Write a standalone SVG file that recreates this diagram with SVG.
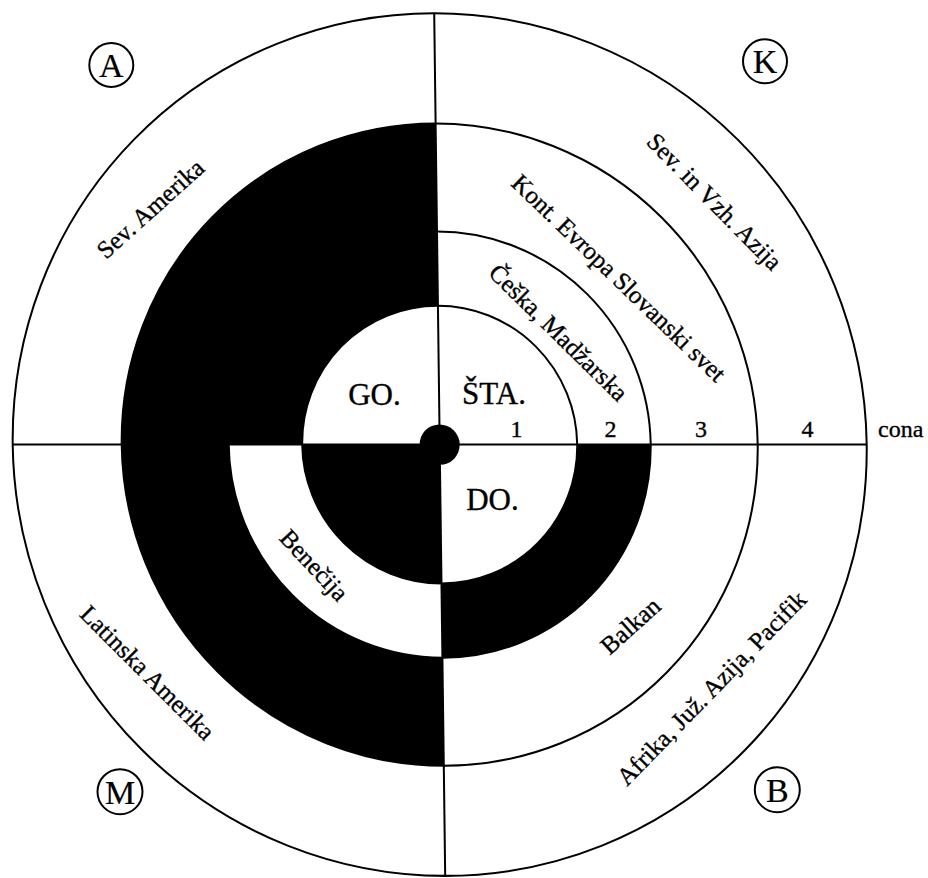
<svg xmlns="http://www.w3.org/2000/svg" width="928" height="878" viewBox="0 0 928 878">
<style>
.t{font-family:"Liberation Serif","Times New Roman",serif;fill:#000;stroke:#000;stroke-width:0.35}
.lab{font-size:25px}
.big{font-size:31px}
.num{font-size:24px}
.ring{fill:none;stroke:#000;stroke-width:2}
.blk{fill:#000;stroke:none}
.ax{stroke:#000;stroke-width:2}
.badge circle{fill:none;stroke:#000;stroke-width:2}
.badge text{font-size:34px;stroke-width:0.2}
</style>
<rect width="928" height="878" fill="#fff"/>
<g id="disc" transform="translate(439.7,444.6) skewX(0.73) scale(1,1.01)">
  <g id="black-sectors">
    <path class="blk" d="M-318,0 A318,318 0 0 1 0,-318 L0,-137.5 A137.5,137.5 0 0 0 -137.5,0 Z"/>
    <path class="blk" d="M0,0 L-137.5,0 A137.5,137.5 0 0 0 0,137.5 Z"/>
    <path class="blk" d="M-318,0 A318,318 0 0 0 0,318 L0,211 A211,211 0 0 1 -211,0 Z"/>
    <path class="blk" d="M211,0 A211,211 0 0 1 0,211 L0,137.5 A137.5,137.5 0 0 0 137.5,0 Z"/>
  </g>
  <g id="rings">
    <circle class="ring" r="137.5"/>
    <circle class="ring" r="211"/>
    <circle class="ring" r="318"/>
    <circle class="ring" r="427" stroke-width="2.5"/>
  </g>
  <g id="connectors">
    <line class="ax" x1="-427" y1="0" x2="427" y2="0"/>
    <line class="ax" x1="0" y1="-427" x2="0" y2="427"/>
  </g>
  <circle id="center" r="20" fill="#000"/>
</g>
<g id="center-labels">
  <text class="t big" x="374.5" y="405" text-anchor="middle">GO.</text>
  <text class="t big" x="494" y="404" text-anchor="middle">ŠTA.</text>
  <text class="t big" x="492.5" y="510" text-anchor="middle">DO.</text>
</g>
<g id="zone-numbers">
  <text class="t num" x="516.5" y="437" text-anchor="middle">1</text>
  <text class="t num" x="610.5" y="437" text-anchor="middle">2</text>
  <text class="t num" x="701" y="437" text-anchor="middle">3</text>
  <text class="t num" x="807.5" y="437" text-anchor="middle">4</text>
  <text class="t num" x="878" y="437">cona</text>
</g>
<g id="region-labels">
  <text class="t lab" text-anchor="middle" transform="translate(156,215) rotate(-42)">Sev. Amerika</text>
  <text class="t lab" text-anchor="middle" transform="translate(708.5,207.4) rotate(45.5)">Sev. in Vzh. Azija</text>
  <text class="t lab" text-anchor="middle" transform="translate(613,284) rotate(44)">Kont. Evropa Slovanski svet</text>
  <text class="t lab" text-anchor="middle" transform="translate(552.6,338.5) rotate(44.5)">Češka, Madžarska</text>
  <text class="t lab" text-anchor="middle" transform="translate(308,571) rotate(47)">Benečija</text>
  <text class="t lab" text-anchor="middle" transform="translate(141.5,678.5) rotate(45)">Latinska Amerika</text>
  <text class="t lab" text-anchor="middle" transform="translate(636,632) rotate(-42)">Balkan</text>
  <text class="t lab" text-anchor="middle" transform="translate(717.5,694) rotate(-45.8)">Afrika, Juž. Azija, Pacifik</text>
</g>
<g id="badge-A" class="badge"><circle cx="111.3" cy="65" r="22"/><text class="t" x="111.3" y="77" text-anchor="middle">A</text></g>
<g id="badge-K" class="badge"><circle cx="765" cy="61.3" r="22"/><text class="t" x="765" y="73.3" text-anchor="middle">K</text></g>
<g id="badge-M" class="badge"><circle cx="120" cy="791.7" r="22.5"/><text class="t" x="120" y="803.7" text-anchor="middle">M</text></g>
<g id="badge-B" class="badge"><circle cx="777.3" cy="789.7" r="22.5"/><text class="t" x="777.3" y="801.7" text-anchor="middle">B</text></g>
</svg>
